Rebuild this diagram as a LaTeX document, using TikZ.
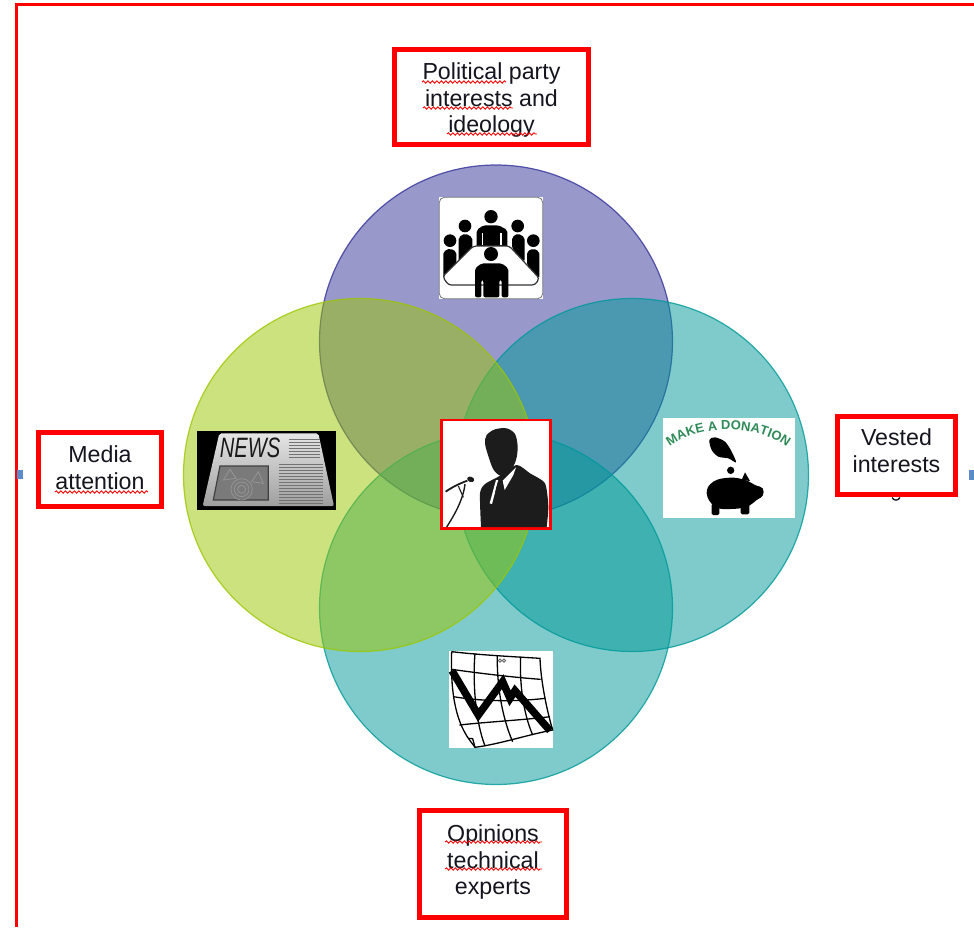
\documentclass[tikz,border=0pt]{standalone}
\usepackage{fontspec}
\setmainfont{Liberation Sans}
\usetikzlibrary{decorations.pathmorphing,decorations.text}
\definecolor{vpurple}{HTML}{333399}
\definecolor{vgreen}{HTML}{9BC700}
\definecolor{vteal}{HTML}{009999}
\definecolor{txt}{HTML}{15151F}
\definecolor{handle}{HTML}{5B8BC9}
\definecolor{dgreen}{HTML}{2E8B57}
\tikzset{
  venn/.style={circle,minimum size=353pt,inner sep=0pt,fill opacity=.5,draw opacity=.8,line width=1.2pt},
  labelbox/.style={draw=red,line width=4.5pt,fill=white,inner sep=0pt},
  labeltext/.style={inner sep=0pt,align=center,text=txt,font=\fontsize{23.2}{26.5}\selectfont},
  squiggle/.style={draw=red,line width=.9pt,decorate,decoration={snake,segment length=4.5pt,amplitude=1.2pt}},
  iconbg/.style={fill=white,draw=none},
  tiny line/.style={draw=black!55,line width=.9pt},
}
\begin{document}
\begin{tikzpicture}[x=1pt,y=-1pt]
\useasboundingbox (0,0) rectangle (974,927);
\fill[white] (0,0) rectangle (974,927);
% page frame
\coordinate (fa) at (16,927); \coordinate (fb) at (16,4); \coordinate (fc) at (974,4);
\draw[red,line width=3pt] (fa) -- (fb) -- (fc);
\fill[handle] (17,470) rectangle (23,479);
\fill[handle] (969,470) rectangle (974,480);
% circles
\node[venn,fill=vpurple,draw=vpurple] (top) at (496,341.5) {};
\node[venn,fill=vteal,draw=vteal] (right) at (632,475) {};
\node[venn,fill=vteal,draw=vteal] (bottom) at (496,608) {};
\node[venn,fill=vgreen,draw=vgreen] (left) at (360,475) {};
% labels
\node[labelbox,minimum width=194pt,minimum height=95pt] (lpol) at (491.5,97) {};
\node[labeltext] (tpol) at (491.5,100) {Political party\\interests and\\ideology};
\node[labelbox,minimum width=123pt,minimum height=74pt] (lmed) at (100,469.5) {};
\node[labeltext] (tmed) at (100,467.5) {Media\\attention};
\draw[txt,line width=1.3pt] (892,497.5) .. controls (894,501) and (898,501) .. (900,497.5);
\node[labelbox,minimum width=118pt,minimum height=78pt] (lves) at (896.5,455.5) {};
\node[labeltext] (tves) at (896.5,450.5) {Vested\\interests};
\node[labelbox,minimum width=147pt,minimum height=107pt] (lopi) at (493,864) {};
\node[labeltext] (topi) at (493,862) {Opinions\\technical\\experts};
\draw[squiggle] (422,82) -- (506,82);
\draw[squiggle] (423,108) -- (513,108);
\draw[squiggle] (447,134) -- (537,134);
\draw[squiggle] (445,842) -- (542,842);
\draw[squiggle] (445,869) -- (542,869);
\draw[squiggle] (55,492) -- (148,492);
% meeting icon
\begin{scope}[shift={(420,180)},scale=1/3]
\fill[iconbg] (58,52) rectangle (368,356);
\draw[black!55,line width=.8pt,rounded corners=5pt] (58,52) rectangle (368,356);
\fill (213,110) circle (20);
\fill (135,138) circle (19);
\fill (293,138) circle (19);
\fill (90,182) circle (19);
\fill (340,182) circle (19);
\fill[rounded corners=2pt] (170,205) -- (170,150) -- (190,136) -- (236,136) -- (262,150) -- (262,205) -- cycle;
\fill[rounded corners=2pt] (116,245) -- (116,172) -- (135,160) -- (157,172) -- (157,205) -- cycle;
\fill[rounded corners=2pt] (276,205) -- (276,172) -- (293,160) -- (314,172) -- (314,245) -- cycle;
\fill[rounded corners=2pt] (70,295) -- (70,215) -- (90,205) -- (109,215) -- (109,255) -- cycle;
\fill[rounded corners=2pt] (321,255) -- (321,215) -- (340,205) -- (358,215) -- (358,295) -- cycle;
\foreach \xx in {185,240}{\fill[white] (\xx,160) rectangle (\xx+5,195);}
\filldraw[fill=white,draw=black!80,line width=1.2pt,rounded corners=3pt] (160,198) -- (268,198) -- (358,295) -- (345,315) -- (85,315) -- (68,290) -- cycle;
\fill (213,222) circle (21);
\fill[rounded corners=2pt] (165,352) -- (165,265) -- (185,250) -- (245,250) -- (265,265) -- (265,352) -- (245,352) -- (245,300) -- (238,300) -- (238,352) -- (190,352) -- (190,300) -- (184,300) -- (184,352) -- cycle;
\end{scope}
% news icon
\begin{scope}[shift={(180,410)},scale=1/3]
\fill[black] (52,62) rectangle (467,300);
\shade[top color=black!10,bottom color=black!38,rounded corners=2pt] (118,70) -- (415,70) -- (462,288) -- (68,288) -- cycle;
\node[font=\fontsize{28}{28}\selectfont\itshape,text=black!90,inner sep=0pt,xscale=.72] (newsword) at (210,115) {NEWS};
\foreach \yy in {88,97,...,149}{\draw[tiny line] (326,\yy) -- (420,\yy);}
\foreach \yy in {163,172,...,285}{\draw[tiny line] (296,\yy) -- (430,\yy);}
\filldraw[fill=black!52,draw=black!75,line width=1.2pt] (120,168) -- (265,168) -- (265,270) -- (100,270) -- cycle;
\foreach \rr in {12,22,32}{\draw[black!42,line width=.8pt] (185,238) circle (\rr);}
\draw[black!42,line width=.8pt] (150,178) -- (168,205) -- (130,210) -- cycle;
\draw[black!42,line width=.8pt] (235,185) -- (250,220) -- (215,215) -- cycle;
\end{scope}
% speaker icon
\begin{scope}[shift={(430,410)},scale=1/3]
\filldraw[fill=white,draw=red,line width=2.5pt] (35,30) rectangle (362,355);
\definecolor{sp}{HTML}{1C1C1C}
\fill[sp] plot[smooth cycle] coordinates {(170,75) (195,58) (230,55) (255,72) (263,110) (258,150) (240,185) (212,197) (190,178) (174,135) (165,100)};
\fill[sp] plot[smooth,tension=.4] coordinates {(153,351) (150,250) (165,222) (205,200) (260,165) (300,190) (345,220) (355,290) (350,351)} -- cycle;
\fill[white] (218,212) -- (258,172) -- (250,195) -- (224,240) -- cycle;
\fill[white] (198,210) -- (205,210) -- (186,282) -- (179,280) -- cycle;
\fill[sp] (205,212) -- (218,214) -- (214,235) -- (192,272) -- (198,235) -- cycle;
\fill[sp,rotate around={-20:(122,208)}] (122,208) ellipse (11 and 8);
\draw[sp,line width=1.8pt] (112,212) .. controls (90,220) and (65,232) .. (47,245);
\draw[sp,line width=1.4pt] (105,222) .. controls (100,270) and (70,320) .. (50,351);
\draw[sp,line width=1.1pt] (85,228) -- (100,262);
\end{scope}
% donation icon
\begin{scope}[shift={(650,405)},scale=1/3]
\fill[iconbg] (40,40) rectangle (435,340);
\path[decorate,decoration={text along path,text align=center,text color=dgreen,
  text={|\fontsize{13}{13}\selectfont\bfseries|MAKE A DONATION}}]
  (42,140) .. controls (110,62) and (330,42) .. (428,142);
\fill[black] plot[smooth cycle,tension=.5] coordinates {(178,105) (195,97) (225,110) (245,140) (258,172) (235,160) (205,155) (185,135)};
\fill (242,196) circle (11);
\fill[black] plot[smooth cycle,tension=.7] coordinates {(170,265) (190,230) (240,218) (285,225) (315,240) (338,250) (338,272) (320,285) (290,305) (240,312) (195,305)};
\fill[rounded corners=1.5pt] (185,295) rectangle (208,330);
\fill[rounded corners=1.5pt] (272,295) rectangle (298,328);
\fill (275,225) -- (285,202) -- (300,228) -- cycle;
\end{scope}
% chart icon
\begin{scope}[shift={(400,640)},scale=1/3]
\fill[iconbg] (148,32) rectangle (458,325);
\begin{scope}[black,line width=1.3pt]
\draw (155,35) .. controls (240,45) and (340,50) .. (420,55) .. controls (422,120) and (440,210) .. (458,270)
  .. controls (380,285) and (300,312) .. (225,322) -- (205,295) .. controls (175,250) and (150,180) .. (155,35);
\draw (205,295) -- (218,296) -- (225,322);
\draw (155,88) .. controls (240,100) and (340,112) .. (422,118);
\draw (160,170) .. controls (250,185) and (350,185) .. (436,175);
\draw (178,255) .. controls (270,245) and (370,240) .. (450,230);
\draw (225,40) .. controls (218,120) and (225,240) .. (255,318);
\draw (292,45) .. controls (290,130) and (305,230) .. (338,305);
\draw (362,50) .. controls (358,130) and (370,220) .. (398,285);
\end{scope}
\draw[black,line width=7.5pt,line join=miter] (156,92) -- (235,225) -- (308,125) -- (330,175) -- (345,152) -- (450,272);
\draw[black!60,line width=.9pt] (300,62) circle (5) (312,62) circle (5);
\end{scope}
\end{tikzpicture}
\end{document}
